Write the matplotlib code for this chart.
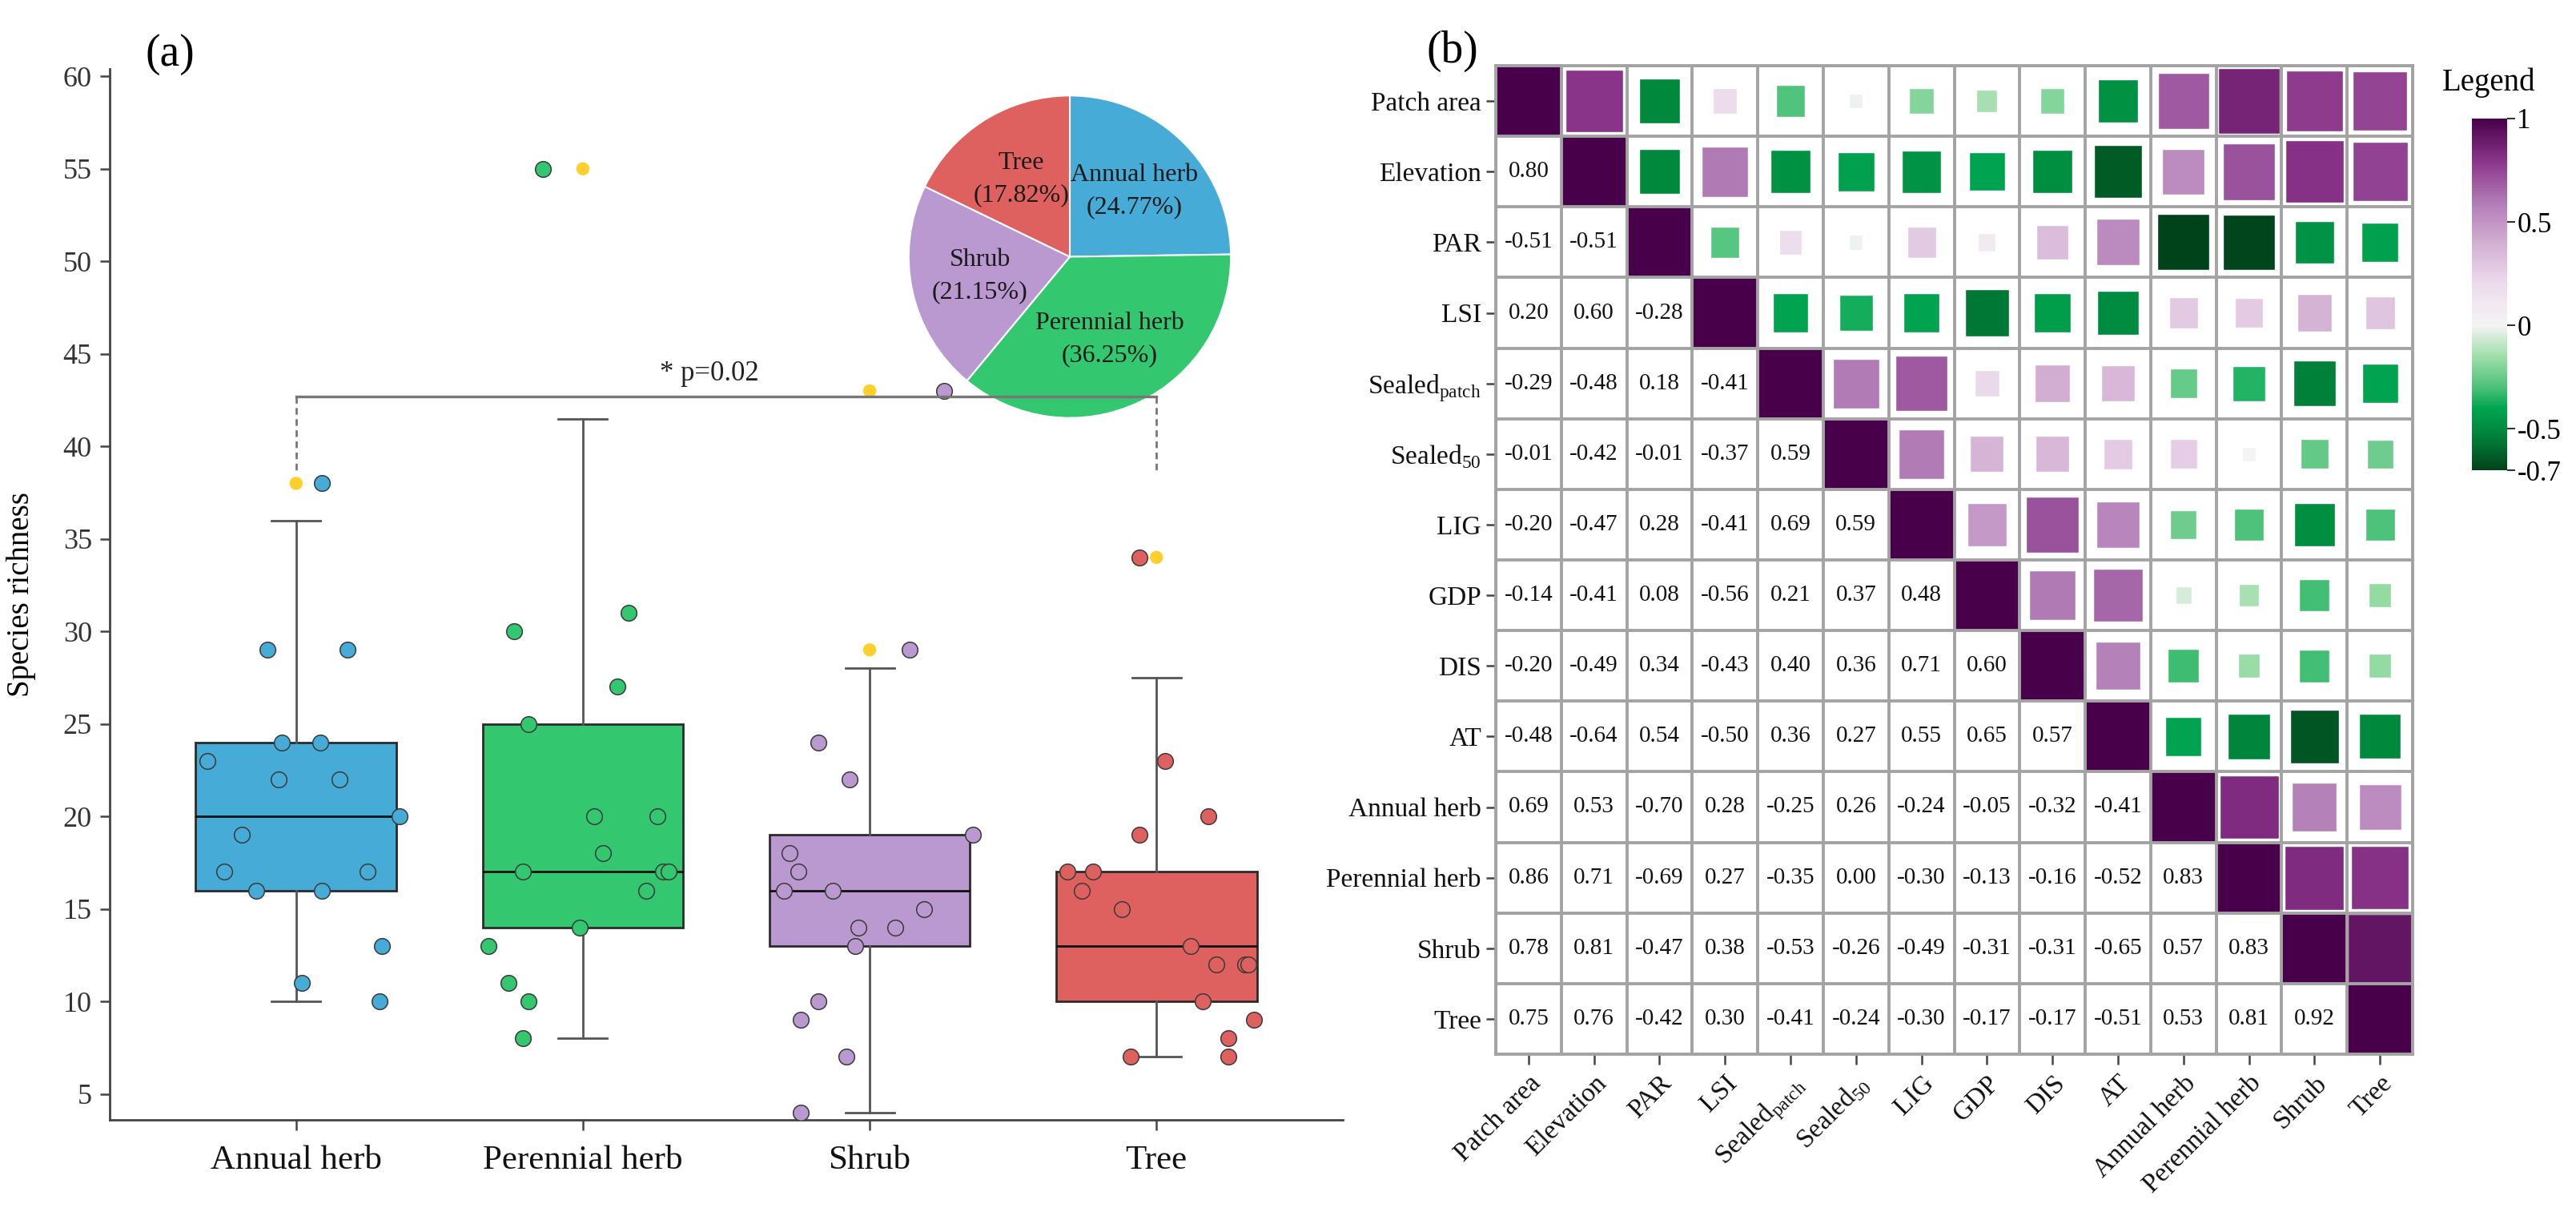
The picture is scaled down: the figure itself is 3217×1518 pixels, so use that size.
import matplotlib
matplotlib.use("Agg")
import matplotlib.pyplot as plt
import numpy as np
from matplotlib.cm import ScalarMappable
from matplotlib.colors import LinearSegmentedColormap, Normalize
from matplotlib.patches import Rectangle

plt.rcParams['font.family'] = ['Liberation Serif', 'DejaVu Serif']
plt.rcParams['mathtext.fontset'] = 'custom'
plt.rcParams['mathtext.rm'] = 'Liberation Serif'
plt.rcParams['axes.unicode_minus'] = False

# ---------------- (a) box plot data ----------------
groups = ['Annual herb', 'Perennial herb', 'Shrub', 'Tree']
group_colors = ['#46ABD7', '#33C870', '#BA99D0', '#DF615F']

box_q1 = [16, 14, 13, 10]
box_med = [20, 17, 16, 13]
box_q3 = [24, 25, 19, 17]
whisk_lo = [10, 8, 4, 7]
whisk_hi = [36, 41.5, 28, 27.5]

# sample points (values) and their horizontal jitter
annual_vals = [38, 29, 29, 24, 24, 23, 22, 22, 20, 19, 17, 17, 16, 16, 13, 11, 10]
annual_jit = [0.09, -0.10, 0.18, -0.05, 0.085, -0.31, -0.06, 0.15, 0.36, -0.19,
              -0.25, 0.25, -0.14, 0.09, 0.30, 0.02, 0.29]
perennial_vals = [55, 31, 30, 27, 25, 20, 20, 18, 17, 17, 17, 16, 14, 13, 11, 10, 8]
perennial_jit = [-0.14, 0.16, -0.24, 0.12, -0.19, 0.04, 0.26, 0.07, -0.21, 0.28,
                 0.30, 0.22, -0.01, -0.33, -0.26, -0.19, -0.21]
shrub_vals = [43, 29, 24, 22, 19, 18, 17, 16, 16, 15, 14, 14, 13, 10, 9, 7, 4]
shrub_jit = [0.26, 0.14, -0.18, -0.07, 0.36, -0.28, -0.25, -0.30, -0.13, 0.19,
             -0.04, 0.09, -0.05, -0.18, -0.24, -0.08, -0.24]
tree_vals = [34, 23, 20, 19, 17, 17, 16, 15, 13, 12, 12, 12, 10, 9, 8, 7, 7]
tree_jit = [-0.06, 0.03, 0.18, -0.06, -0.31, -0.22, -0.26, -0.12, 0.12, 0.21,
            0.31, 0.32, 0.16, 0.34, 0.25, -0.09, 0.25]

point_vals = [annual_vals, perennial_vals, shrub_vals, tree_vals]
point_jit = [annual_jit, perennial_jit, shrub_jit, tree_jit]

# outliers shown in yellow on the box centre
outliers = [[38], [55], [29, 43], [34]]

# pie of species share
pie_shares = [24.77, 36.25, 21.15, 17.82]

# ---------------- (b) correlation data ----------------
variables = ['Patch area', 'Elevation', 'PAR', 'LSI', r'Sealed$_{\mathrm{patch}}$',
             r'Sealed$_{\mathrm{50}}$', 'LIG', 'GDP', 'DIS', 'AT', 'Annual herb',
             'Perennial herb', 'Shrub', 'Tree']
lower_rows = [
    [0.80],
    [-0.51, -0.51],
    [0.20, 0.60, -0.28],
    [-0.29, -0.48, 0.18, -0.41],
    [-0.01, -0.42, -0.01, -0.37, 0.59],
    [-0.20, -0.47, 0.28, -0.41, 0.69, 0.59],
    [-0.14, -0.41, 0.08, -0.56, 0.21, 0.37, 0.48],
    [-0.20, -0.49, 0.34, -0.43, 0.40, 0.36, 0.71, 0.60],
    [-0.48, -0.64, 0.54, -0.50, 0.36, 0.27, 0.55, 0.65, 0.57],
    [0.69, 0.53, -0.70, 0.28, -0.25, 0.26, -0.24, -0.05, -0.32, -0.41],
    [0.86, 0.71, -0.69, 0.27, -0.35, 0.00, -0.30, -0.13, -0.16, -0.52, 0.83],
    [0.78, 0.81, -0.47, 0.38, -0.53, -0.26, -0.49, -0.31, -0.31, -0.65, 0.57, 0.83],
    [0.75, 0.76, -0.42, 0.30, -0.41, -0.24, -0.30, -0.17, -0.17, -0.51, 0.53, 0.81, 0.92],
]
cbar_ticks = [1, 0.5, 0, -0.5, -0.7]
cbar_labels = ['1', '0.5', '0', '-0.5', '-0.7']

W, H = 3217, 1518
fig = plt.figure(figsize=(W / 100, H / 100), dpi=100)


def fig_rect(x0, y0, x1, y1):
    # pixel box -> figure fraction
    return [x0 / W, 1 - y1 / H, (x1 - x0) / W, (y1 - y0) / H]


# ================= panel (a) =================
ax = fig.add_axes(fig_rect(137, 86, 1677, 1398))
ax.set_zorder(2)
ax.patch.set_alpha(0)
pos = np.arange(len(groups))

stats = []
for i in range(len(groups)):
    stats.append(dict(q1=box_q1[i], med=box_med[i], q3=box_q3[i],
                      whislo=whisk_lo[i], whishi=whisk_hi[i], fliers=[]))
bp = ax.bxp(stats, positions=pos, widths=0.7, patch_artist=True, showfliers=False,
            capwidths=0.17,
            boxprops=dict(edgecolor='#2b2b2b', linewidth=2),
            medianprops=dict(color='#111111', linewidth=2),
            whiskerprops=dict(color='#555555', linewidth=2),
            capprops=dict(color='#555555', linewidth=2))
for patch, c in zip(bp['boxes'], group_colors):
    patch.set_facecolor(c)

for i in range(len(groups)):
    xs = pos[i] + np.array(point_jit[i])
    ax.scatter(xs, point_vals[i], s=200, color=group_colors[i], edgecolor='#3a3a3a',
               linewidth=1.1, zorder=4)
    ax.scatter(np.full(len(outliers[i]), pos[i]), outliers[i], s=140, color='#FDD02E',
               edgecolor='none', zorder=4)

# significance bracket Annual herb vs Tree
y_br = 42.7
ax.plot([pos[0], pos[3]], [y_br, y_br], color='#777777', lw=2.4, zorder=5)
ax.plot([pos[0], pos[0]], [y_br, 38.6], color='#777777', lw=2, ls=(0, (3, 2)), zorder=5)
ax.plot([pos[3], pos[3]], [y_br, 38.6], color='#777777', lw=2, ls=(0, (3, 2)), zorder=5)
ax.text(1.44, 43.2, '* p=0.02', ha='center', va='bottom', fontsize=25, color='#222222')

ax.set_xlim(-0.65, 3.65)
ax.set_ylim(3.6, 60.4)
ax.set_yticks(np.arange(5, 61, 5))
ax.set_xticks(pos)
ax.set_xticklabels(groups)
ax.spines['top'].set_visible(False)
ax.spines['right'].set_visible(False)
for s in ['left', 'bottom']:
    ax.spines[s].set_color('#444444')
    ax.spines[s].set_linewidth(2)
ax.tick_params(axis='y', labelsize=26, length=9, width=1.8, color='#444444',
               labelcolor='#333333', pad=7)
ax.tick_params(axis='x', labelsize=31, length=9, width=1.8, color='#444444',
               labelcolor='#111111', pad=14)
ax.set_ylabel('Species richness', fontsize=28)
ax.yaxis.set_label_coords(-0.06, 0.5)
fig.text(212 / W, 1 - 68 / H, '(a)', fontsize=40, ha='center', va='center')

# inset pie, sitting underneath panel (a)
pax = fig.add_axes(fig_rect(1084, 69, 1588, 572))
pax.set_zorder(1)
pie_labels = ['%s\n(%.2f%%)' % (g, v) for g, v in zip(groups, pie_shares)]
wedges, texts = pax.pie(pie_shares, colors=group_colors, startangle=90, counterclock=False,
                        labels=pie_labels, labeldistance=0.57,
                        wedgeprops=dict(edgecolor='white', linewidth=1.5),
                        textprops=dict(fontsize=23, color='#1a1a1a'))
for t in texts:
    t.set_ha('center')
    t.set_va('center')
    t.set_linespacing(1.5)
pax.set_aspect('equal')

# ================= panel (b) =================
n = len(variables)
corr = np.eye(n)
for i, row in enumerate(lower_rows, start=1):
    corr[i, :i] = row
    corr[:i, i] = row

cmap = LinearSegmentedColormap.from_list('corr', [
    (0.0, '#00421a'), (0.1 / 1.7, '#006b2d'), (0.2 / 1.7, '#008c40'),
    (0.3 / 1.7, '#00a651'), (0.4 / 1.7, '#4cc27a'), (0.55 / 1.7, '#a0deab'),
    (0.7 / 1.7, '#f4f4f4'), (0.9 / 1.7, '#ecdcec'), (1.1 / 1.7, '#d3aed3'),
    (1.3 / 1.7, '#b07ab5'), (1.5 / 1.7, '#8a3489'), (1.0, '#48004a')])
norm = Normalize(vmin=-0.7, vmax=1)

hx = fig.add_axes(fig_rect(1868, 82, 3013, 1316))
hx.set_xlim(-0.5, n - 0.5)
hx.set_ylim(n - 0.5, -0.5)
grid_c = '#a3a3a3'
for i in range(n):
    for j in range(n):
        r = corr[i, j]
        if i == j:
            hx.add_patch(Rectangle((j - 0.5, i - 0.5), 1, 1, facecolor=cmap(norm(r)),
                                   edgecolor='none', zorder=1))
        elif j > i:
            side = min(0.2 + 0.85 * abs(r), 0.97)
            hx.add_patch(Rectangle((j - side / 2, i - side / 2), side, side,
                                   facecolor=cmap(norm(r)), edgecolor='white',
                                   linewidth=1.0, zorder=1))
        else:
            hx.text(j, i, '%.2f' % r, ha='center', va='center', fontsize=21,
                    color='#111111')
for k in range(n + 1):
    hx.axhline(k - 0.5, color=grid_c, lw=2.8, zorder=2)
    hx.axvline(k - 0.5, color=grid_c, lw=2.8, zorder=2)
for s in hx.spines.values():
    s.set_color(grid_c)
    s.set_linewidth(2.8)
hx.set_xticks(range(n))
hx.set_yticks(range(n))
hx.set_xticklabels(variables, rotation=45, ha='right', rotation_mode='anchor')
hx.set_yticklabels(variables)
hx.tick_params(axis='both', labelsize=24, length=9, width=1.8, color='#444444',
               labelcolor='#111111')
hx.tick_params(axis='y', pad=4)
hx.tick_params(axis='x', pad=6)
fig.text(1814 / W, 1 - 64 / H, '(b)', fontsize=40, ha='center', va='center')

# colour bar
cax = fig.add_axes(fig_rect(3087, 148, 3131, 587))
cb = fig.colorbar(ScalarMappable(norm=norm, cmap=cmap), cax=cax)
cb.set_ticks(cbar_ticks)
cb.set_ticklabels(cbar_labels)
cb.outline.set_visible(False)
cax.tick_params(labelsize=25, length=7, width=1.5, color='#333333', pad=2)
fig.text(3108 / W, 1 - 103 / H, 'Legend', fontsize=28, ha='center', va='center')

fig.savefig('out.png', dpi=100, facecolor='white')
